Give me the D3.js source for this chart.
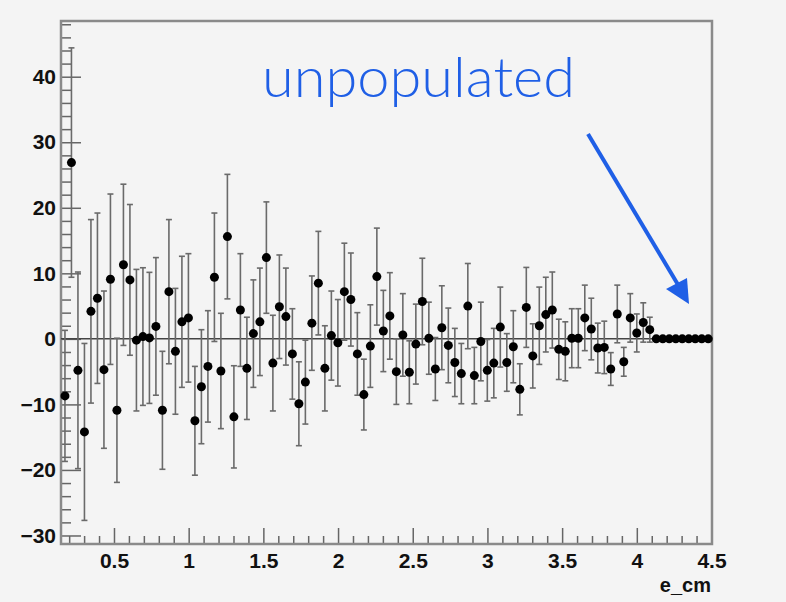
<!DOCTYPE html>
<html>
<head>
<meta charset="utf-8">
<script src="https://cdn.jsdelivr.net/npm/d3@7"></script>
<style>
  html, body { margin: 0; padding: 0; background: #f4f4f4; }
  svg { display: block; }
  .tick text { font-family: "Liberation Sans", Arial, sans-serif; font-weight: bold; font-size: 21px; fill: #111; }
  .tick line { stroke: #666; stroke-width: 1.5; }
</style>
</head>
<body>
<div id="chart"></div>
<script>
// histogram binning (e_cm)
const binLo = 0.15, binHi = 4.5, nBins = 100;

// bin contents
const values = [
  -8.7, 26.9, -4.8, -14.2, 4.2, 6.2, -4.7, 9.1, -10.9, 11.3,
  9.0, -0.2, 0.35, 0.15, 1.9, -10.9, 7.2, -1.9, 2.6, 3.2,
  -12.5, -7.3, -4.2, 9.4, -4.9, 15.6, -11.9, 4.4, -4.5, 0.8,
  2.6, 12.4, -3.7, 4.9, 3.4, -2.3, -9.9, -6.6, 2.4, 8.5,
  -4.5, 0.5, -0.6, 7.2, 6.0, -2.3, -8.5, -1.1, 9.5, 1.2,
  3.5, -5.0, 0.6, -5.1, -0.8, 5.7, 0.1, -4.6, 1.7, -1.0,
  -3.6, -5.3, 5.0, -5.6, -0.4, -4.8, -3.7, 1.8, -3.6, -1.2,
  -7.7, 4.8, -2.6, 2.0, 3.7, 4.4, -1.6, -1.9, 0.1, 0.1,
  3.2, 1.5, -1.4, -1.3, -4.6, 3.8, -3.5, 3.2, 0.9, 2.5,
  1.4, 0, 0, 0, 0, 0, 0, 0, 0, 0
];

// bin errors
const errors = [
  10, 17.5, 15, 13.5, 14, 13, 12, 13, 11, 12.3,
  11.5, 10.8, 10.5, 10, 10.5, 9, 11, 9.6, 10, 9.8,
  8.3, 8.7, 8.5, 9.8, 8.8, 9.5, 7.8, 8.6, 7.8, 8.2,
  8.2, 8.5, 7.3, 7.9, 7.4, 6.9, 6.4, 6.4, 7.2, 7.9,
  6.5, 6.8, 6.6, 7.4, 7.1, 6.3, 5.4, 6.3, 7.4, 6.2,
  6.6, 5.0, 6.3, 4.8, 6.1, 6.6, 5.5, 4.8, 6.4, 5.7,
  5.2, 4.6, 6.5, 4.3, 6.0, 4.7, 5.3, 6.1, 4.4, 5.5,
  3.9, 6.1, 4.9, 5.9, 5.7, 5.8, 4.6, 4.5, 4.5, 4.5,
  5.0, 4.7, 3.8, 4.0, 2.5, 4.4, 2.2, 3.7, 2.9, 3.0,
  1.9, 0, 0, 0, 0, 0, 0, 0, 0, 0
];

const xMajor = [0.5, 1, 1.5, 2, 2.5, 3, 3.5, 4, 4.5];
const yMajor = [-30, -20, -10, 0, 10, 20, 30, 40];
const xTitle = "e_cm";
const note = "unpopulated";

const W = 786, H = 602;
const frame = { left: 61, right: 712, top: 21, bottom: 544 };

const svg = d3.select("#chart").append("svg")
  .attr("width", W)
  .attr("height", H);

svg.append("rect")
  .attr("width", W).attr("height", H)
  .attr("fill", "#f4f4f4");

const x = d3.scaleLinear().domain([binLo, binHi]).range([frame.left + 0.7, frame.right - 0.5]);
const y = d3.scaleLinear().domain([-31.3, 48.5]).range([frame.bottom, frame.top]);

const binW = (binHi - binLo) / nBins;
const bins = values.map((v, i) => ({ x: binLo + (i + 0.5) * binW, v: v, e: errors[i] }));

// minor tick positions
const xMinor = d3.range(2, 46).map(k => k / 10).filter(t => !xMajor.some(m => Math.abs(m - t) < 1e-6));
const yMinor = d3.range(-30, 49, 2).filter(t => t % 10 !== 0);

// axes (ticks point inwards like ROOT)
const gx = svg.append("g").attr("transform", `translate(0,${frame.bottom})`);
gx.append("g")
  .call(d3.axisBottom(x).tickValues(xMinor).tickSizeInner(-8).tickSizeOuter(0).tickFormat(""))
  .call(g => g.select(".domain").remove());
gx.append("g")
  .call(d3.axisBottom(x).tickValues(xMajor).tickSizeInner(-16).tickSizeOuter(0).tickPadding(9).tickFormat(d3.format("")))
  .call(g => g.select(".domain").remove());

const gy = svg.append("g").attr("transform", `translate(${frame.left},0)`);
gy.append("g")
  .call(d3.axisLeft(y).tickValues(yMinor).tickSizeInner(-10).tickSizeOuter(0).tickFormat(""))
  .call(g => g.select(".domain").remove());
gy.append("g")
  .call(d3.axisLeft(y).tickValues(yMajor).tickSizeInner(-20).tickSizeOuter(0).tickPadding(5).tickFormat(d3.format("")))
  .call(g => g.select(".domain").remove());

// frame
svg.append("rect")
  .attr("x", frame.left).attr("y", frame.top)
  .attr("width", frame.right - frame.left)
  .attr("height", frame.bottom - frame.top)
  .attr("fill", "none")
  .attr("stroke", "#8a8a8a")
  .attr("stroke-width", 2.5);

// zero line
svg.append("line")
  .attr("x1", frame.left).attr("x2", frame.right)
  .attr("y1", y(0)).attr("y2", y(0))
  .attr("stroke", "#444").attr("stroke-width", 1.5);

// error bars
const eb = svg.append("g").attr("stroke", "#6a6a6a").attr("stroke-width", 1.6);
const withErr = bins.filter(d => d.e > 0);
eb.selectAll("line.bar").data(withErr).enter().append("line")
  .attr("class", "bar")
  .attr("x1", d => x(d.x)).attr("x2", d => x(d.x))
  .attr("y1", d => y(d.v - d.e)).attr("y2", d => y(d.v + d.e));
eb.selectAll("line.capTop").data(withErr).enter().append("line")
  .attr("class", "capTop")
  .attr("x1", d => x(d.x) - 3).attr("x2", d => x(d.x) + 3)
  .attr("y1", d => y(d.v + d.e)).attr("y2", d => y(d.v + d.e));
eb.selectAll("line.capBot").data(withErr).enter().append("line")
  .attr("class", "capBot")
  .attr("x1", d => x(d.x) - 3).attr("x2", d => x(d.x) + 3)
  .attr("y1", d => y(d.v - d.e)).attr("y2", d => y(d.v - d.e));

// markers
svg.append("g").selectAll("circle").data(bins).enter().append("circle")
  .attr("cx", d => x(d.x))
  .attr("cy", d => y(d.v))
  .attr("r", 4.5)
  .attr("fill", "#000");

// axis title
svg.append("text")
  .attr("x", frame.right - 1).attr("y", 592)
  .attr("text-anchor", "end")
  .style("font-family", "'Liberation Sans', Arial, sans-serif")
  .style("font-weight", "bold")
  .style("font-size", "20px")
  .attr("fill", "#111")
  .text(xTitle);

// annotation
svg.append("text")
  .attr("x", 262).attr("y", 97)
  .attr("textLength", 313)
  .attr("lengthAdjust", "spacingAndGlyphs")
  .style("font-family", "Lato, 'Open Sans', sans-serif")
  .style("font-weight", 300)
  .style("font-size", "56px")
  .attr("fill", "#1f5fe6")
  .text(note);

const blue = "#1f5fe6";
svg.append("line")
  .attr("x1", 588).attr("y1", 134)
  .attr("x2", 680).attr("y2", 288)
  .attr("stroke", blue).attr("stroke-width", 4);
svg.append("path")
  .attr("d", d3.line()([[689, 304], [666, 289], [687, 278]]) + "Z")
  .attr("fill", blue);
</script>
</body>
</html>
